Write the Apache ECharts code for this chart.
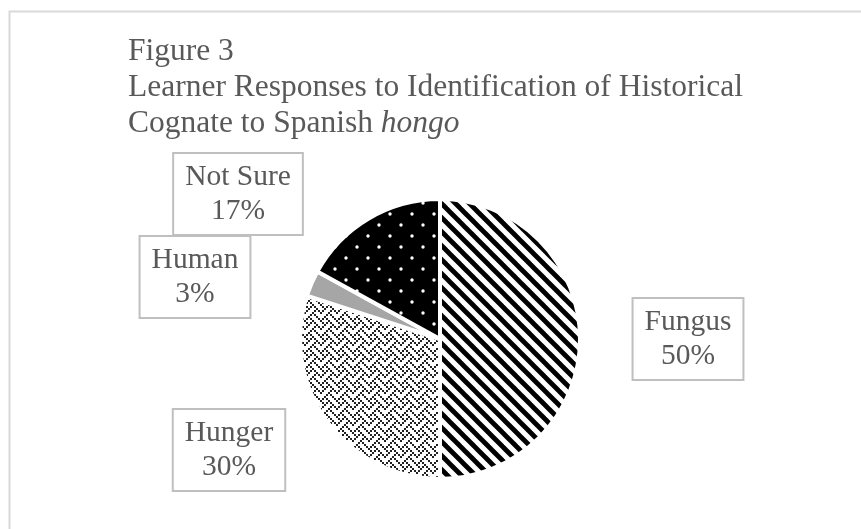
<!DOCTYPE html>
<html>
<head>
<meta charset="utf-8">
<script src="https://cdn.jsdelivr.net/npm/echarts@6/dist/echarts.min.js"></script>
<style>
html,body{margin:0;padding:0;background:#fff;}
#chart{width:861px;height:529px;}
</style>
</head>
<body>
<div id="chart"></div>
<script>
// ---- data ----
var categories = ['Fungus', 'Hunger', 'Human', 'Not Sure'];
var percents = [50, 30, 3, 17];
var titleLines = ['Figure 3', 'Learner Responses to Identification of Historical', 'Cognate to Spanish '];
var titleItalic = 'hongo';

// ---- patterns ----
function makeCanvas(w, h) {
  var c = document.createElement('canvas');
  c.width = w; c.height = h;
  return c;
}
function stripePattern() {
  var T = 14, c = makeCanvas(T, T), ctx = c.getContext('2d');
  ctx.fillStyle = '#fff'; ctx.fillRect(0, 0, T, T);
  ctx.strokeStyle = '#000'; ctx.lineWidth = 4.8;
  for (var k = -1; k <= 1; k++) {
    ctx.beginPath(); ctx.moveTo(k * T - 2, -2); ctx.lineTo(k * T + T + 2, T + 2); ctx.stroke();
  }
  return c;
}
function dotPattern() {
  var T = 22, c = makeCanvas(T, T), ctx = c.getContext('2d');
  ctx.fillStyle = '#000'; ctx.fillRect(0, 0, T, T);
  ctx.fillStyle = '#fff';
  [[5, 5], [16, 16]].forEach(function (p) {
    ctx.beginPath(); ctx.arc(p[0], p[1], 1.7, 0, Math.PI * 2); ctx.fill();
  });
  return c;
}
function weavePattern() {
  var bits = [0x88, 0x54, 0x22, 0x45, 0x88, 0x14, 0x22, 0x51];
  var s = 2, T = 16, c = makeCanvas(T, T), ctx = c.getContext('2d');
  ctx.fillStyle = '#fff'; ctx.fillRect(0, 0, T, T);
  ctx.fillStyle = '#222';
  for (var r = 0; r < 8; r++) {
    for (var b = 0; b < 8; b++) {
      if (bits[r] & (0x80 >> b)) ctx.fillRect(b * s, r * s, s, s);
    }
  }
  return c;
}
var fills = [
  { image: stripePattern(), repeat: 'repeat' },
  { image: weavePattern(), repeat: 'repeat' },
  '#a6a6a6',
  { image: dotPattern(), repeat: 'repeat' }
];
// label box centres (layout)
var labelPos = [[688, 339], [229, 450], [195, 277], [238, 194]];

var serif = "'Liberation Serif', 'Times New Roman', serif";
var chart = echarts.init(document.getElementById('chart'), null, { renderer: 'canvas' });
var option = {
  animation: false,
  backgroundColor: '#fff',
  title: {
    left: 123,
    top: 29,
    text: titleLines[0] + '\n' + titleLines[1] + '\n' + titleLines[2] + '{i|' + titleItalic + '}',
    textStyle: {
      fontFamily: serif, fontSize: 31.5, lineHeight: 36, fontWeight: 'normal', color: '#595959',
      rich: { i: { fontFamily: serif, fontSize: 31.5, lineHeight: 36, fontStyle: 'italic', color: '#595959' } }
    }
  },
  graphic: [{
    type: 'rect', left: 7, top: 9, silent: true,
    shape: { width: 900, height: 600 },
    style: { fill: 'none', stroke: '#d9d9d9', lineWidth: 2 }
  }],
  series: [{
    type: 'pie',
    center: [440, 339],
    radius: 140,
    startAngle: 90,
    clockwise: true,
    emphasis: { disabled: true },
    itemStyle: { borderColor: '#fff', borderWidth: 4 },
    label: {
      show: true,
      formatter: function (p) { return p.name + '\n' + p.value + '%'; },
      fontFamily: serif, fontSize: 29.5, lineHeight: 34, color: '#595959',
      backgroundColor: '#fff', borderColor: '#bfbfbf', borderWidth: 2,
      padding: [6, 11, 6, 11], align: 'center'
    },
    labelLine: { show: false },
    labelLayout: function (params) {
      var p = labelPos[params.dataIndex];
      return { x: p[0], y: p[1], align: 'center', verticalAlign: 'middle' };
    },
    data: categories.map(function (c, i) {
      return { name: c, value: percents[i], itemStyle: { color: fills[i] } };
    })
  }]
};
chart.setOption(option);
</script>
</body>
</html>
